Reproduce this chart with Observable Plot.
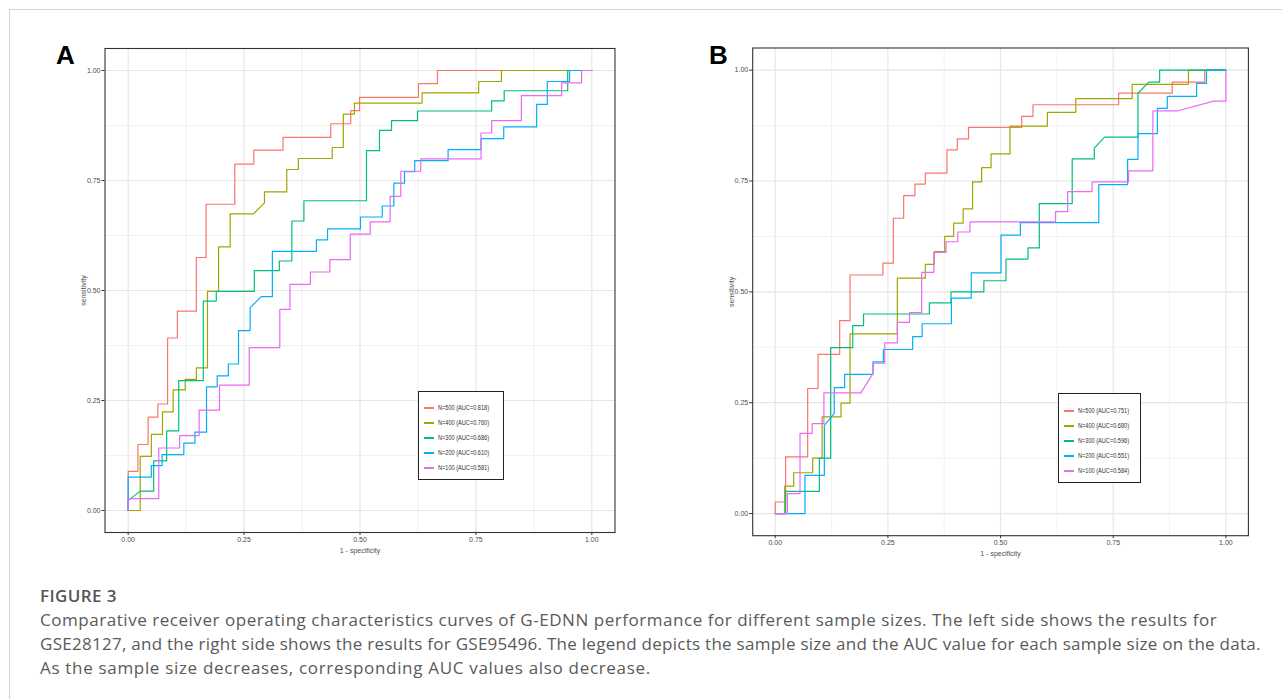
<!DOCTYPE html>
<html><head><meta charset="utf-8">
<script src="https://cdn.jsdelivr.net/npm/d3@7"></script>
<script src="https://cdn.jsdelivr.net/npm/@observablehq/plot@0.6"></script>
<style>
html,body{margin:0;padding:0;background:#fff}
body{width:1282px;height:699px;overflow:hidden;position:relative;font-family:"Liberation Sans",Arial,sans-serif}
#box{position:absolute;left:9px;top:9px;width:1320px;height:820px;border:1px solid #d3d3d3}
.panel{position:absolute}
.tag{position:absolute;font-weight:bold;font-size:26px;font-family:"Liberation Sans",Arial,sans-serif;color:#000;line-height:1}
.legend{position:absolute;border:1.5px solid #222;background:#fff;box-sizing:border-box}
.legend .row{position:absolute;left:0;height:10px;font-size:7px;line-height:10px;color:#333;white-space:nowrap}
.legend .key{position:absolute;left:5px;top:4px;width:10px;height:2px}
.legend .txt{position:absolute;left:19px;top:0;transform:scaleX(0.8);transform-origin:0 50%;font-family:"Liberation Sans",Arial,sans-serif}
#figlabel{position:absolute;left:40px;top:586px;font-family:"Open Sans",sans-serif;font-size:17px;color:#555;font-weight:600;letter-spacing:0.4px;line-height:20px}
#caption{position:absolute;left:40px;top:608px;font-family:"Open Sans",sans-serif;font-size:17px;line-height:24px;color:#5a5a5a;white-space:nowrap}
#caption div{height:24px}
</style></head>
<body>
<div id="box"></div>
<div class="tag" style="left:56px;top:42px">A</div>
<div class="tag" style="left:709px;top:42px">B</div>
<div id="plotA" class="panel" style="left:50px;top:30px"></div>
<div id="plotB" class="panel" style="left:700px;top:30px"></div>
<div id="legA" class="legend" style="left:418px;top:391px;width:86px;height:89px"></div>
<div id="legB" class="legend" style="left:1058px;top:393px;width:83px;height:90px"></div>
<div id="figlabel">FIGURE 3</div>
<div id="caption">
<div style="letter-spacing:0.54px">Comparative receiver operating characteristics curves of G-EDNN performance for different sample sizes. The left side shows the results for</div>
<div style="letter-spacing:0.27px">GSE28127, and the right side shows the results for GSE95496. The legend depicts the sample size and the AUC value for each sample size on the data.</div>
<div style="letter-spacing:0.68px">As the sample size decreases, corresponding AUC values also decrease.</div>
</div>
<script>
// ---------- categories ----------
const seriesNames = ["N=500", "N=400", "N=300", "N=200", "N=100"];
const aucA = [0.818, 0.760, 0.686, 0.610, 0.581];
const aucB = [0.751, 0.680, 0.596, 0.551, 0.584];
const tickValues = [0, 0.25, 0.5, 0.75, 1];
const minorValues = [0.125, 0.375, 0.625, 0.875];
const xLabel = "1 - specificity";
const yLabel = "sensitivity";

// ---------- Panel A (GSE28127): 1-specificity (fpr) and sensitivity (tpr) ----------
const a500_fpr = [0,0,0.021,0.021,0.043,0.043,0.064,0.064,0.085,0.085,0.106,0.106,0.147,0.147,0.168,0.168,0.230,0.230,0.271,0.271,0.334,0.334,0.437,0.437,0.480,0.480,0.499,0.499,0.626,0.626,0.667,0.667,1];
const a500_tpr = [0,0.089,0.089,0.150,0.150,0.212,0.212,0.242,0.242,0.392,0.392,0.453,0.453,0.575,0.575,0.696,0.696,0.787,0.787,0.819,0.819,0.848,0.848,0.879,0.879,0.909,0.909,0.939,0.939,0.970,0.970,1,1];

const a400_fpr = [0,0.026,0.026,0.050,0.050,0.074,0.074,0.097,0.097,0.123,0.123,0.147,0.147,0.171,0.171,0.195,0.195,0.220,0.220,0.270,0.294,0.294,0.342,0.342,0.367,0.367,0.440,0.440,0.464,0.464,0.488,0.488,0.634,0.634,0.756,0.756,0.805,0.805,1];
const a400_tpr = [0,0,0.123,0.123,0.173,0.173,0.224,0.224,0.274,0.274,0.298,0.298,0.324,0.324,0.498,0.498,0.599,0.599,0.674,0.674,0.699,0.724,0.724,0.775,0.775,0.800,0.800,0.825,0.825,0.901,0.901,0.926,0.926,0.949,0.949,0.975,0.975,1,1];

const a300_fpr = [0,0,0.026,0.055,0.055,0.083,0.083,0.109,0.109,0.162,0.162,0.190,0.190,0.272,0.272,0.326,0.326,0.353,0.353,0.379,0.379,0.514,0.514,0.542,0.542,0.568,0.568,0.624,0.624,0.784,0.784,0.811,0.811,0.948,0.948,1];
const a300_tpr = [0,0.023,0.044,0.044,0.113,0.113,0.181,0.181,0.295,0.295,0.476,0.476,0.498,0.498,0.545,0.545,0.567,0.567,0.658,0.658,0.704,0.704,0.818,0.818,0.864,0.864,0.886,0.886,0.908,0.908,0.931,0.931,0.954,0.954,1,1];

const a200_fpr = [0,0,0.050,0.050,0.073,0.073,0.120,0.120,0.144,0.144,0.169,0.169,0.192,0.192,0.216,0.216,0.238,0.238,0.263,0.263,0.287,0.311,0.311,0.406,0.406,0.430,0.430,0.501,0.501,0.548,0.548,0.573,0.573,0.596,0.596,0.618,0.618,0.690,0.690,0.761,0.761,0.810,0.810,0.881,0.881,0.904,0.904,0.952,0.952,1];
const a200_tpr = [0,0.076,0.076,0.102,0.102,0.127,0.127,0.153,0.153,0.178,0.178,0.281,0.281,0.306,0.306,0.333,0.333,0.409,0.409,0.461,0.486,0.486,0.589,0.589,0.615,0.615,0.640,0.640,0.667,0.667,0.692,0.692,0.744,0.744,0.770,0.770,0.795,0.795,0.820,0.820,0.845,0.845,0.872,0.872,0.923,0.923,0.975,0.975,1,1];

const a100_fpr = [0,0,0.066,0.066,0.111,0.111,0.153,0.153,0.197,0.197,0.261,0.261,0.327,0.327,0.349,0.349,0.393,0.393,0.435,0.435,0.479,0.479,0.522,0.522,0.565,0.565,0.588,0.588,0.631,0.631,0.761,0.761,0.784,0.784,0.848,0.848,0.935,0.935,0.978,0.978,1];
const a100_tpr = [0,0.027,0.027,0.142,0.142,0.170,0.170,0.228,0.228,0.285,0.285,0.370,0.370,0.457,0.457,0.514,0.514,0.542,0.542,0.570,0.570,0.628,0.628,0.656,0.656,0.714,0.714,0.771,0.771,0.799,0.799,0.858,0.858,0.886,0.886,0.943,0.943,0.972,0.972,1,1];

// ---------- Panel B (GSE95496) ----------
const b500_fpr = [0,0,0.023,0.023,0.072,0.072,0.095,0.095,0.143,0.143,0.166,0.166,0.239,0.239,0.262,0.262,0.285,0.285,0.310,0.310,0.333,0.333,0.381,0.381,0.404,0.404,0.429,0.429,0.547,0.547,0.572,0.572,0.762,0.762,0.881,0.881,0.953,0.953,1];
const b500_tpr = [0,0.026,0.026,0.128,0.128,0.282,0.282,0.359,0.359,0.435,0.435,0.538,0.538,0.565,0.565,0.666,0.666,0.717,0.717,0.743,0.743,0.768,0.768,0.820,0.820,0.845,0.845,0.871,0.871,0.896,0.896,0.922,0.922,0.948,0.948,0.973,0.973,1,1];

const b400_fpr = [0,0.021,0.021,0.041,0.041,0.083,0.083,0.104,0.104,0.146,0.146,0.166,0.166,0.271,0.271,0.333,0.333,0.353,0.353,0.376,0.376,0.396,0.396,0.417,0.417,0.438,0.438,0.458,0.458,0.479,0.479,0.521,0.521,0.604,0.604,0.667,0.667,0.792,0.792,0.917,0.917,1];
const b400_tpr = [0,0,0.062,0.062,0.092,0.092,0.125,0.125,0.218,0.218,0.249,0.249,0.405,0.405,0.531,0.531,0.562,0.562,0.591,0.591,0.625,0.625,0.655,0.655,0.687,0.687,0.748,0.748,0.780,0.780,0.811,0.811,0.874,0.874,0.905,0.905,0.936,0.936,0.968,0.968,1,1];

const b300_fpr = [0,0.023,0.023,0.098,0.098,0.123,0.123,0.172,0.172,0.196,0.196,0.342,0.342,0.390,0.390,0.463,0.463,0.512,0.512,0.561,0.561,0.586,0.586,0.659,0.659,0.708,0.708,0.731,0.805,0.805,0.829,0.853,0.853,1];
const b300_tpr = [0,0,0.050,0.050,0.125,0.125,0.374,0.374,0.424,0.424,0.450,0.450,0.475,0.475,0.500,0.500,0.525,0.525,0.574,0.574,0.599,0.599,0.699,0.699,0.800,0.800,0.824,0.849,0.849,0.948,0.973,0.973,1,1];

const b200_fpr = [0,0.066,0.066,0.109,0.109,0.131,0.131,0.154,0.154,0.217,0.217,0.240,0.240,0.305,0.305,0.326,0.326,0.391,0.391,0.435,0.435,0.501,0.501,0.544,0.544,0.718,0.718,0.782,0.782,0.805,0.805,0.848,0.848,0.870,0.870,0.935,0.935,0.957,0.957,1];
const b200_tpr = [0,0,0.086,0.086,0.199,0.226,0.284,0.284,0.314,0.314,0.342,0.342,0.370,0.370,0.399,0.399,0.428,0.428,0.486,0.486,0.543,0.543,0.628,0.628,0.656,0.656,0.742,0.742,0.799,0.799,0.857,0.857,0.914,0.914,0.941,0.941,0.970,0.970,1,1];

const b100_fpr = [0,0.027,0.027,0.055,0.055,0.082,0.082,0.108,0.108,0.190,0.217,0.217,0.243,0.243,0.271,0.271,0.298,0.298,0.325,0.325,0.352,0.352,0.379,0.379,0.405,0.405,0.432,0.432,0.622,0.622,0.649,0.649,0.703,0.703,0.784,0.784,0.838,0.838,0.892,0.973,1,1];
const b100_tpr = [0,0,0.045,0.045,0.181,0.181,0.203,0.203,0.272,0.272,0.316,0.339,0.339,0.385,0.385,0.431,0.431,0.453,0.453,0.544,0.544,0.589,0.589,0.613,0.613,0.635,0.635,0.658,0.658,0.681,0.681,0.726,0.726,0.748,0.748,0.773,0.773,0.908,0.908,0.930,0.930,1];

// ggplot2 default hue palette
const palette = ["#F8766D", "#A3A500", "#00BF7D", "#00B0F6", "#E76BF3"];

function toRows(pairs) {
  const rows = [];
  pairs.forEach(([fpr, tpr], k) => fpr.forEach((x, i) => rows.push({x, y: tpr[i], n: seriesNames[k]})));
  return rows;
}

function makePanel(rows, dims) {
  const fmt = d3.format(".2f");
  return Plot.plot({
    width: dims.width, height: dims.height,
    marginLeft: dims.ml, marginRight: dims.mr, marginTop: dims.mt, marginBottom: dims.mb,
    x: {domain: [-0.05, 1.05]},
    y: {domain: [-0.05, 1.05]},
    color: {domain: seriesNames, range: palette},
    style: {fontFamily: "'Liberation Sans Narrow', 'Liberation Sans', Arial, sans-serif", fontSize: "7px", color: "#4d4d4d", background: "transparent", overflow: "visible"},
    marks: [
      Plot.gridX(minorValues, {stroke: "#ededed", strokeOpacity: 1, strokeWidth: 0.8}),
      Plot.gridY(minorValues, {stroke: "#ededed", strokeOpacity: 1, strokeWidth: 0.8}),
      Plot.gridX(tickValues, {stroke: "#e6e6e6", strokeOpacity: 1, strokeWidth: 1.2}),
      Plot.gridY(tickValues, {stroke: "#e6e6e6", strokeOpacity: 1, strokeWidth: 1.2}),
      Plot.line(rows, {x: "x", y: "y", z: "n", stroke: "n", strokeWidth: 1.2, curve: "linear"}),
      Plot.frame({stroke: "#333", strokeWidth: 1.1}),
      Plot.axisX(tickValues, {tickFormat: fmt, tickSize: 3, tickPadding: 1.5, stroke: "#333", fill: "#4d4d4d",
        label: xLabel, labelAnchor: "center", labelArrow: "none", labelOffset: 20, fontSize: 7}),
      Plot.axisY(tickValues, {tickFormat: fmt, tickSize: 3, tickPadding: 1.5, stroke: "#333", fill: "#4d4d4d",
        label: yLabel, labelAnchor: "center", labelArrow: "none", labelOffset: 24, fontSize: 7})
    ]
  });
}

const rowsA = toRows([[a500_fpr, a500_tpr], [a400_fpr, a400_tpr], [a300_fpr, a300_tpr], [a200_fpr, a200_tpr], [a100_fpr, a100_tpr]]);
const rowsB = toRows([[b500_fpr, b500_tpr], [b400_fpr, b400_tpr], [b300_fpr, b300_tpr], [b200_fpr, b200_tpr], [b100_fpr, b100_tpr]]);

document.getElementById("plotA").append(makePanel(rowsA, {width: 580, height: 530, ml: 54.5, mr: 15.5, mt: 18, mb: 28}));
document.getElementById("plotB").append(makePanel(rowsB, {width: 560, height: 530, ml: 52.2, mr: 12.1, mt: 17.5, mb: 24.8}));

function legend(id, aucs, firstRow) {
  const el = document.getElementById(id);
  seriesNames.forEach((n, i) => {
    const r = document.createElement("div");
    r.className = "row";
    r.style.top = Math.round(firstRow + i * 15) + "px";
    const k = document.createElement("span");
    k.className = "key";
    k.style.background = palette[i];
    const t = document.createElement("span");
    t.className = "txt";
    t.textContent = `${n} (AUC=${aucs[i].toFixed(3)})`;
    r.append(k, t);
    el.append(r);
  });
}
legend("legA", aucA, 11);
legend("legB", aucB, 12);
</script>
</body></html>
